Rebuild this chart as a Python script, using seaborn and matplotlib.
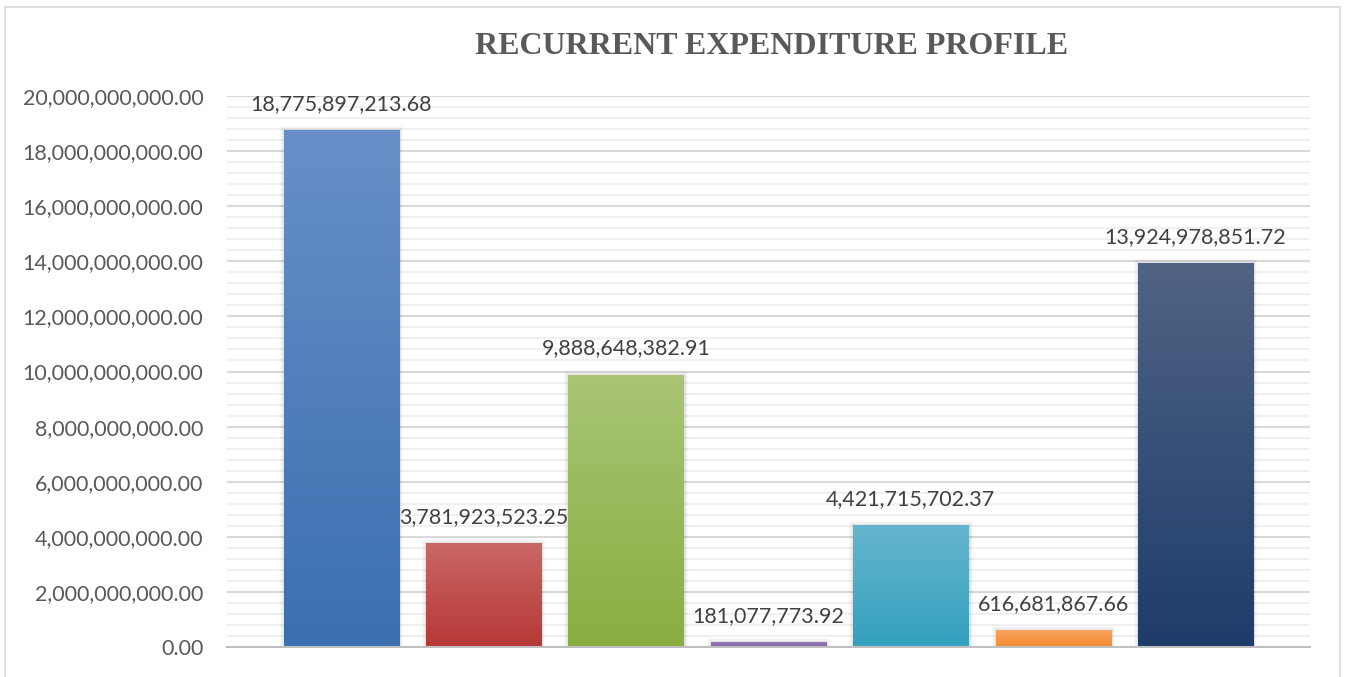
import numpy as np
import pandas as pd
import matplotlib
matplotlib.use("Agg")
import matplotlib.pyplot as plt
import matplotlib.colors as mcolors
from matplotlib.patches import Rectangle
from matplotlib.ticker import MultipleLocator, FuncFormatter
import seaborn as sns

# ---- data ----
categories = ["Cat 1", "Cat 2", "Cat 3", "Cat 4", "Cat 5", "Cat 6", "Cat 7"]
values = [18775897213.68, 3781923523.25, 9888648382.91, 181077773.92,
          4421715702.37, 616681867.66, 13924978851.72]
top_colors = ["#6890C8", "#C96866", "#A9C475", "#9A7DBA", "#66B5CE", "#FAA462", "#506383"]
bottom_colors = ["#3A6FB0", "#B63836", "#88AE40", "#7D5EA6", "#33A0BE", "#F48A30", "#1E3C6B"]
title = "RECURRENT EXPENDITURE PROFILE"

sns.set_theme(style="white")
plt.rcParams['font.family'] = ['Lato', 'DejaVu Sans']

W, H = 1347, 677
fig = plt.figure(figsize=(W / 100, H / 100), dpi=100)
ax = fig.add_axes([227 / W, 1 - 647 / H, (1310 - 227) / W, (647 - 96) / H])

df = pd.DataFrame({"cat": categories, "val": values})
sns.barplot(data=df, x="cat", y="val", hue="cat", palette=bottom_colors,
            width=0.81, legend=False, ax=ax, saturation=1, edgecolor="none", zorder=3)

ax.set_xlim(-0.804, 6.804)
ax.set_ylim(0, 20e9)

# gradient overlay per bar
for patch, ct, cb in zip(ax.patches, top_colors, bottom_colors):
    x0, y0 = patch.get_x(), patch.get_y()
    w, h = patch.get_width(), patch.get_height()
    cmap = mcolors.LinearSegmentedColormap.from_list("g", [cb, ct])
    grad = np.linspace(0, 1, 256).reshape(-1, 1)
    im = ax.imshow(grad, cmap=cmap, origin="lower", aspect="auto",
                   extent=(x0, x0 + w, y0, y0 + h), zorder=3.5)
    im.set_clip_path(patch)
    # soft shadow
    for k, a in [(1, 0.06), (2, 0.04), (3, 0.02)]:
        ax.add_patch(Rectangle((x0, y0), w, h, fill=False, edgecolor="black",
                               linewidth=k * 2, alpha=a, zorder=2.9))
    ax.annotate(f"{patch.get_height():,.2f}", (x0 + w / 2, y0 + h),
                xytext=(0, 26), textcoords="offset pixels", ha="center", va="center",
                fontsize=15.5, color="#404040", zorder=5)

ax.set_xlim(-0.804, 6.804)
ax.set_ylim(0, 20e9)

ax.yaxis.set_major_locator(MultipleLocator(2e9))
ax.yaxis.set_minor_locator(MultipleLocator(0.4e9))
ax.yaxis.set_major_formatter(FuncFormatter(lambda v, p: f"{v:,.2f}"))
ax.grid(axis="y", which="major", color="#D9D9D9", linewidth=1.5, zorder=0)
ax.grid(axis="y", which="minor", color="#F0F0F0", linewidth=1.5, zorder=0)
ax.grid(axis="x", visible=False)
ax.set_axisbelow(True)
ax.tick_params(axis="y", which="both", length=0, pad=17, labelsize=15.5, labelcolor="#595959")
ax.tick_params(axis="x", length=0, labelbottom=False)
ax.set_xlabel("")
ax.set_ylabel("")
for s in ["top", "right", "left"]:
    ax.spines[s].set_visible(False)
ax.spines["bottom"].set_color("#BFBFBF")
ax.spines["bottom"].set_linewidth(1.5)
ax.spines["bottom"].set_zorder(4)

fig.text(771.5 / W, 1 - 46 / H, title, ha="center", va="center",
         fontsize=23, fontweight="bold", color="#595959",
         family=["Liberation Serif", "DejaVu Serif"])

fig.patches.append(Rectangle((5 / W, -0.1), (1340 - 5) / W, 1.1 - 7 / H,
                             transform=fig.transFigure, fill=False,
                             edgecolor="#D9D9D9", linewidth=1.2))

fig.savefig("out.png", dpi=100)
